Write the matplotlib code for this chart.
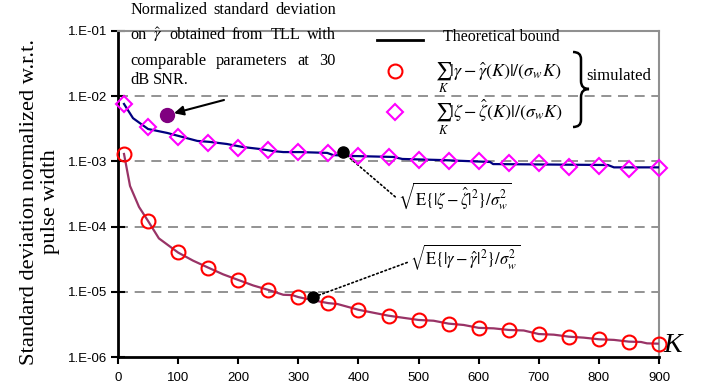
import matplotlib
matplotlib.use('Agg')
import matplotlib.pyplot as plt
from matplotlib.path import Path
from matplotlib.patches import PathPatch
from matplotlib.lines import Line2D

plt.rcParams['font.family'] = ['Liberation Serif', 'DejaVu Serif']
plt.rcParams['mathtext.fontset'] = 'stix'

# simulated points
sim_k = [10, 50, 100, 150, 200, 250, 300, 350, 400, 450, 500,
         550, 600, 650, 700, 750, 800, 850, 900]
zeta_sim = [7.6e-3, 3.33e-3, 2.34e-3, 1.89e-3, 1.59e-3, 1.50e-3, 1.39e-3, 1.36e-3, 1.22e-3,
            1.16e-3, 1.05e-3, 1.00e-3, 1.00e-3, 9.35e-4, 9.35e-4, 8.3e-4, 8.5e-4, 7.6e-4, 7.9e-4]
gamma_sim = [1.30e-3, 1.22e-4, 4.03e-5, 2.34e-5, 1.52e-5, 1.07e-5, 8.24e-6, 6.67e-6, 5.26e-6,
             4.26e-6, 3.70e-6, 3.25e-6, 2.79e-6, 2.60e-6, 2.25e-6, 2.05e-6, 1.87e-6, 1.72e-6, 1.60e-6]

# theoretical bounds
zeta_bound_k = [10, 25, 50, 82, 132, 153, 181, 208, 236, 258, 275, 303, 348, 358, 391,
                458, 473, 536, 619, 624, 815, 825, 900]
zeta_bound = [7.6e-3, 4.6e-3, 3.14e-3, 2.73e-3, 2.06e-3, 1.99e-3, 1.85e-3, 1.66e-3, 1.55e-3,
              1.44e-3, 1.39e-3, 1.39e-3, 1.35e-3, 1.25e-3, 1.21e-3, 1.17e-3, 1.09e-3, 1.05e-3,
              9.8e-4, 9.1e-4, 8.8e-4, 8.1e-4, 8.1e-4]
gamma_bound_k = [10, 20, 35, 50, 68, 100, 125, 150, 175, 200, 225, 250, 275, 290, 300, 325, 350,
                 365, 400, 450, 500, 525, 550, 575, 600, 625, 650, 675, 700, 725, 750, 775,
                 800, 825, 850, 870, 880, 900]
gamma_bound = [1.30e-3, 4.2e-4, 2.0e-4, 1.22e-4, 6.6e-5, 4.0e-5, 3.0e-5, 2.35e-5, 1.85e-5, 1.52e-5,
               1.25e-5, 1.07e-5, 9.0e-6, 8.9e-6, 8.3e-6, 7.4e-6, 6.7e-6, 6.5e-6, 5.3e-6,
               4.3e-6, 3.7e-6, 3.6e-6, 3.25e-6, 3.1e-6, 2.8e-6, 2.75e-6, 2.6e-6, 2.55e-6,
               2.25e-6, 2.2e-6, 2.05e-6, 1.98e-6, 1.87e-6, 1.83e-6, 1.72e-6, 1.70e-6, 1.62e-6, 1.60e-6]

# highlighted points
tll_point = (82, 5.15e-3)
zeta_mark = (374, 1.39e-3)
gamma_mark = (324, 8.2e-6)

x_ticks = list(range(0, 1000, 100))
y_ticks = [1e-6, 1e-5, 1e-4, 1e-3, 1e-2, 1e-1]
y_tick_labels = ['1.E-06', '1.E-05', '1.E-04', '1.E-03', '1.E-02', '1.E-01']

W, H = 701, 390


def fx(px):
    return px / W


def fy(py):
    return 1 - py / H


fig = plt.figure(figsize=(W / 100, H / 100), dpi=100)
ax = fig.add_axes([fx(118), fy(357), fx(659) - fx(118), fy(31) - fy(357)])
ax.set_yscale('log')
ax.set_xlim(0, 900)
ax.set_ylim(1e-6, 1e-1)

# gridlines
for v in y_ticks[1:-1]:
    ax.axhline(v, color='#808080', lw=1.2, ls=(0, (6, 4)), zorder=1)

ax.plot(zeta_bound_k, zeta_bound, color='#000080', lw=1.6, zorder=3)
ax.plot(gamma_bound_k, gamma_bound, color='#993366', lw=1.6, zorder=3)
ax.plot(sim_k, zeta_sim, ls='none', marker='D', ms=8, mfc='none', mec='#FF00FF',
        mew=1.5, clip_on=False, zorder=4)
ax.plot(sim_k, gamma_sim, ls='none', marker='o', ms=10, mfc='none', mec='#FF0000',
        mew=1.5, clip_on=False, zorder=4)

ax.plot(*tll_point, marker='o', ms=10, color='#800080', zorder=5)
ax.plot(*zeta_mark, marker='o', ms=8, color='black', zorder=5)
ax.plot(*gamma_mark, marker='o', ms=8, color='black', zorder=5)

# spines / ticks
for s in ['left', 'bottom']:
    ax.spines[s].set_color('black')
    ax.spines[s].set_linewidth(2)
for s in ['top', 'right']:
    ax.spines[s].set_color('#909090')
    ax.spines[s].set_linewidth(1.5)

ax.set_xticks(x_ticks)
ax.set_yticks(y_ticks)
ax.set_yticklabels(y_tick_labels)
ax.minorticks_off()
ax.tick_params(axis='y', direction='inout', length=10, width=1.5, pad=2.5, labelsize=9.5)
ax.tick_params(axis='x', direction='out', length=5, width=1.5, pad=6, labelsize=9.5)
for lab in ax.get_xticklabels() + ax.get_yticklabels():
    lab.set_fontfamily('Liberation Sans')

fig.text(fx(40), fy(202), 'Standard deviation normalized w.r.t.\npulse width',
         rotation=90, ha='center', va='center', fontsize=16.2, linespacing=1.15)
fig.text(fx(663), fy(345), 'K', fontsize=20, style='italic', ha='left', va='center')

# annotations with dotted leaders
ax.annotate(r'$\sqrt{\mathrm{E}\{|\zeta-\hat{\zeta}|^2\}/\sigma_w^2}$', xy=zeta_mark,
            xytext=(398, H - 196), textcoords='figure pixels', fontsize=12,
            ha='left', va='center',
            arrowprops=dict(arrowstyle='-', ls=':', lw=1.2, color='black',
                            relpos=(0, 0.4), shrinkA=0, shrinkB=3))
ax.annotate(r'$\sqrt{\mathrm{E}\{|\gamma-\hat{\gamma}|^2\}/\sigma_w^2}$', xy=gamma_mark,
            xytext=(410, H - 257), textcoords='figure pixels', fontsize=12,
            ha='left', va='center',
            arrowprops=dict(arrowstyle='-', ls=':', lw=1.2, color='black',
                            relpos=(0, 0.35), shrinkA=0, shrinkB=3))
ax.annotate('', xy=tll_point, xytext=(224, H - 100), textcoords='figure pixels',
            arrowprops=dict(arrowstyle='-|>', lw=1.5, color='black',
                            mutation_scale=14, shrinkA=0, shrinkB=5))

# justified note text
renderer = fig.canvas.get_renderer()
note_lines = [['Normalized', 'standard', 'deviation'],
              ['on', r'$\hat{\gamma}$', 'obtained', 'from', 'TLL', 'with'],
              ['comparable', 'parameters', 'at', '30'],
              ['dB', 'SNR.']]
note_y = [10, 35, 61, 80]
for i, (words, yy) in enumerate(zip(note_lines, note_y)):
    texts = [fig.text(0, fy(yy), w, fontsize=11.7, va='center', ha='left') for w in words]
    widths = [t.get_window_extent(renderer).width for t in texts]
    if i < len(note_lines) - 1:
        gap = (336 - 130 - sum(widths)) / (len(words) - 1)
    else:
        gap = 4
    x = 130
    for t, wd in zip(texts, widths):
        t.set_x(fx(x))
        x += wd + gap

# legend
fig.add_artist(Line2D([fx(377), fx(423)], [fy(40), fy(40)], color='black', lw=2))
fig.text(fx(443), fy(37), 'Theoretical bound', fontsize=11.5, va='center')
fig.add_artist(Line2D([fx(395)], [fy(71)], marker='o', ms=10, mfc='none',
                      mec='#FF0000', mew=1.5))
fig.add_artist(Line2D([fx(395)], [fy(112)], marker='D', ms=8, mfc='none',
                      mec='#FF00FF', mew=1.5))
fig.text(fx(435), fy(76), r'$\sum_K|\gamma-\hat{\gamma}(K)|/(\sigma_w K)$', fontsize=13,
         va='baseline', ha='left')
fig.text(fx(435), fy(118), r'$\sum_K|\zeta-\hat{\zeta}(K)|/(\sigma_w K)$', fontsize=13,
         va='baseline', ha='left')
fig.text(fx(586), fy(76), 'simulated', fontsize=12, va='center', ha='left')

# curly brace
bx, top, bot, tip = 573, 52, 127, 89
mid = 581
verts = [(bx, top), (mid, top), (mid, top + 7),
         (mid, tip - 8), (mid, tip), (589, tip),
         (mid, tip), (mid, tip + 8),
         (mid, bot - 7), (mid, bot), (bx, bot)]
codes = [Path.MOVETO, Path.CURVE3, Path.CURVE3,
         Path.LINETO, Path.CURVE3, Path.CURVE3,
         Path.CURVE3, Path.CURVE3,
         Path.LINETO, Path.CURVE3, Path.CURVE3]
verts = [(fx(a), fy(b)) for a, b in verts]
fig.add_artist(PathPatch(Path(verts, codes), fill=False, lw=1.8, color='black',
                         transform=fig.transFigure))

fig.savefig('out.png', dpi=100)
